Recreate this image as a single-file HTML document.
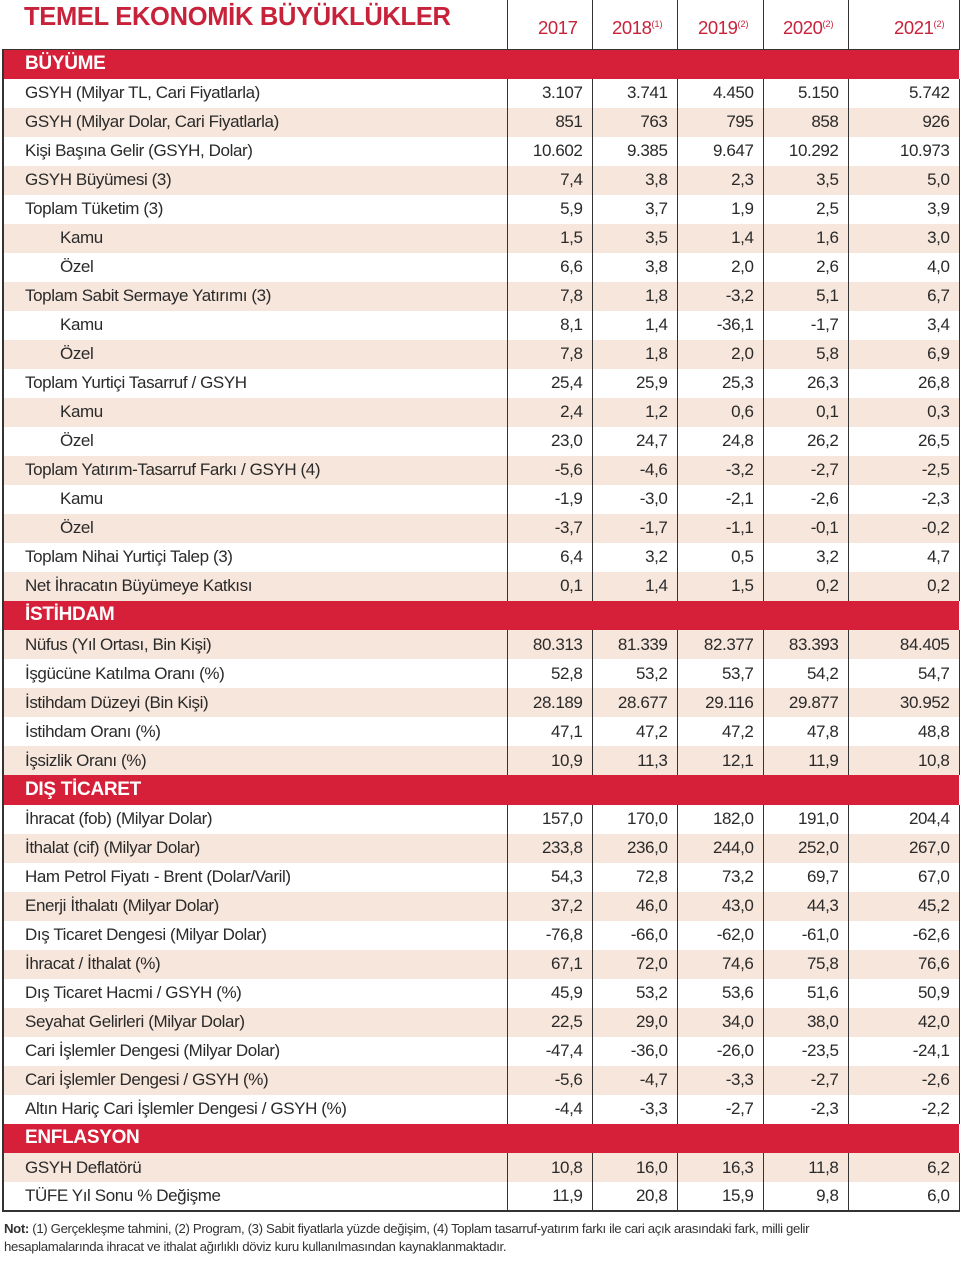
<!DOCTYPE html>
<html><head><meta charset="utf-8">
<style>
*{margin:0;padding:0;box-sizing:border-box}
body{width:960px;height:1264px;background:#fff;font-family:"Liberation Sans",sans-serif;color:#2a2a2a;position:relative;overflow:hidden}
.title{position:absolute;left:24px;top:3px;font-size:25.5px;font-weight:bold;color:#c8223b;letter-spacing:-0.3px}
table{position:absolute;left:2px;top:0;width:956px;border-collapse:collapse;table-layout:fixed}
td{height:29px;font-size:17px;letter-spacing:-0.4px;white-space:nowrap;overflow:hidden;padding:0;border-left:1.5px solid #333;border-right:1.5px solid #333}
td.l{padding-left:21px;border-left:2px solid #333}
td.n{text-align:right;padding-right:9px}
tr.b td{background:#f7e6db}
tr.h td{height:49px;color:#c8223b;text-align:right;padding-right:14px;font-size:18.5px;vertical-align:bottom;padding-bottom:10px;border-bottom:1.5px solid #333}
tr.h td.l{border-left:none}
tr.s td{background:#d61f38;color:#fff;font-weight:bold;font-size:19px;height:29.5px;border-right:none;padding-left:21px;letter-spacing:-0.3px;border-left:2px solid #333}
tr.last td{border-bottom:2px solid #333}
sup{font-size:9px;vertical-align:7px;letter-spacing:0}
.i{padding-left:56px!important}
.note{position:absolute;left:4px;top:1220px;font-size:13.2px;line-height:18px;color:#333;letter-spacing:-0.35px}
</style></head><body>
<div class="title">TEMEL EKONOMİK BÜYÜKLÜKLER</div>
<table>
<colgroup><col style="width:504px"><col style="width:85px"><col style="width:85px"><col style="width:86px"><col style="width:85px"><col style="width:111px"></colgroup>
<tr class="h"><td class="l"></td><td>2017</td><td>2018<sup>(1)</sup></td><td>2019<sup>(2)</sup></td><td>2020<sup>(2)</sup></td><td>2021<sup>(2)</sup></td></tr>
<tr class="s"><td colspan="6">BÜYÜME</td></tr>
<tr><td class="l">GSYH (Milyar TL, Cari Fiyatlarla)</td><td class="n">3.107</td><td class="n">3.741</td><td class="n">4.450</td><td class="n">5.150</td><td class="n">5.742</td></tr>
<tr class="b"><td class="l">GSYH (Milyar Dolar, Cari Fiyatlarla)</td><td class="n">851</td><td class="n">763</td><td class="n">795</td><td class="n">858</td><td class="n">926</td></tr>
<tr><td class="l">Kişi Başına Gelir (GSYH, Dolar)</td><td class="n">10.602</td><td class="n">9.385</td><td class="n">9.647</td><td class="n">10.292</td><td class="n">10.973</td></tr>
<tr class="b"><td class="l">GSYH Büyümesi (3)</td><td class="n">7,4</td><td class="n">3,8</td><td class="n">2,3</td><td class="n">3,5</td><td class="n">5,0</td></tr>
<tr><td class="l">Toplam Tüketim (3)</td><td class="n">5,9</td><td class="n">3,7</td><td class="n">1,9</td><td class="n">2,5</td><td class="n">3,9</td></tr>
<tr class="b"><td class="l i">Kamu</td><td class="n">1,5</td><td class="n">3,5</td><td class="n">1,4</td><td class="n">1,6</td><td class="n">3,0</td></tr>
<tr><td class="l i">Özel</td><td class="n">6,6</td><td class="n">3,8</td><td class="n">2,0</td><td class="n">2,6</td><td class="n">4,0</td></tr>
<tr class="b"><td class="l">Toplam Sabit Sermaye Yatırımı (3)</td><td class="n">7,8</td><td class="n">1,8</td><td class="n">-3,2</td><td class="n">5,1</td><td class="n">6,7</td></tr>
<tr><td class="l i">Kamu</td><td class="n">8,1</td><td class="n">1,4</td><td class="n">-36,1</td><td class="n">-1,7</td><td class="n">3,4</td></tr>
<tr class="b"><td class="l i">Özel</td><td class="n">7,8</td><td class="n">1,8</td><td class="n">2,0</td><td class="n">5,8</td><td class="n">6,9</td></tr>
<tr><td class="l">Toplam Yurtiçi Tasarruf / GSYH</td><td class="n">25,4</td><td class="n">25,9</td><td class="n">25,3</td><td class="n">26,3</td><td class="n">26,8</td></tr>
<tr class="b"><td class="l i">Kamu</td><td class="n">2,4</td><td class="n">1,2</td><td class="n">0,6</td><td class="n">0,1</td><td class="n">0,3</td></tr>
<tr><td class="l i">Özel</td><td class="n">23,0</td><td class="n">24,7</td><td class="n">24,8</td><td class="n">26,2</td><td class="n">26,5</td></tr>
<tr class="b"><td class="l">Toplam Yatırım-Tasarruf Farkı / GSYH (4)</td><td class="n">-5,6</td><td class="n">-4,6</td><td class="n">-3,2</td><td class="n">-2,7</td><td class="n">-2,5</td></tr>
<tr><td class="l i">Kamu</td><td class="n">-1,9</td><td class="n">-3,0</td><td class="n">-2,1</td><td class="n">-2,6</td><td class="n">-2,3</td></tr>
<tr class="b"><td class="l i">Özel</td><td class="n">-3,7</td><td class="n">-1,7</td><td class="n">-1,1</td><td class="n">-0,1</td><td class="n">-0,2</td></tr>
<tr><td class="l">Toplam Nihai Yurtiçi Talep (3)</td><td class="n">6,4</td><td class="n">3,2</td><td class="n">0,5</td><td class="n">3,2</td><td class="n">4,7</td></tr>
<tr class="b"><td class="l">Net İhracatın Büyümeye Katkısı</td><td class="n">0,1</td><td class="n">1,4</td><td class="n">1,5</td><td class="n">0,2</td><td class="n">0,2</td></tr>
<tr class="s"><td colspan="6">İSTİHDAM</td></tr>
<tr class="b"><td class="l">Nüfus (Yıl Ortası, Bin Kişi)</td><td class="n">80.313</td><td class="n">81.339</td><td class="n">82.377</td><td class="n">83.393</td><td class="n">84.405</td></tr>
<tr><td class="l">İşgücüne Katılma Oranı (%)</td><td class="n">52,8</td><td class="n">53,2</td><td class="n">53,7</td><td class="n">54,2</td><td class="n">54,7</td></tr>
<tr class="b"><td class="l">İstihdam Düzeyi (Bin Kişi)</td><td class="n">28.189</td><td class="n">28.677</td><td class="n">29.116</td><td class="n">29.877</td><td class="n">30.952</td></tr>
<tr><td class="l">İstihdam Oranı (%)</td><td class="n">47,1</td><td class="n">47,2</td><td class="n">47,2</td><td class="n">47,8</td><td class="n">48,8</td></tr>
<tr class="b"><td class="l">İşsizlik Oranı (%)</td><td class="n">10,9</td><td class="n">11,3</td><td class="n">12,1</td><td class="n">11,9</td><td class="n">10,8</td></tr>
<tr class="s"><td colspan="6">DIŞ TİCARET</td></tr>
<tr><td class="l">İhracat (fob) (Milyar Dolar)</td><td class="n">157,0</td><td class="n">170,0</td><td class="n">182,0</td><td class="n">191,0</td><td class="n">204,4</td></tr>
<tr class="b"><td class="l">İthalat (cif) (Milyar Dolar)</td><td class="n">233,8</td><td class="n">236,0</td><td class="n">244,0</td><td class="n">252,0</td><td class="n">267,0</td></tr>
<tr><td class="l">Ham Petrol Fiyatı - Brent (Dolar/Varil)</td><td class="n">54,3</td><td class="n">72,8</td><td class="n">73,2</td><td class="n">69,7</td><td class="n">67,0</td></tr>
<tr class="b"><td class="l">Enerji İthalatı (Milyar Dolar)</td><td class="n">37,2</td><td class="n">46,0</td><td class="n">43,0</td><td class="n">44,3</td><td class="n">45,2</td></tr>
<tr><td class="l">Dış Ticaret Dengesi (Milyar Dolar)</td><td class="n">-76,8</td><td class="n">-66,0</td><td class="n">-62,0</td><td class="n">-61,0</td><td class="n">-62,6</td></tr>
<tr class="b"><td class="l">İhracat / İthalat (%)</td><td class="n">67,1</td><td class="n">72,0</td><td class="n">74,6</td><td class="n">75,8</td><td class="n">76,6</td></tr>
<tr><td class="l">Dış Ticaret Hacmi / GSYH (%)</td><td class="n">45,9</td><td class="n">53,2</td><td class="n">53,6</td><td class="n">51,6</td><td class="n">50,9</td></tr>
<tr class="b"><td class="l">Seyahat Gelirleri (Milyar Dolar)</td><td class="n">22,5</td><td class="n">29,0</td><td class="n">34,0</td><td class="n">38,0</td><td class="n">42,0</td></tr>
<tr><td class="l">Cari İşlemler Dengesi (Milyar Dolar)</td><td class="n">-47,4</td><td class="n">-36,0</td><td class="n">-26,0</td><td class="n">-23,5</td><td class="n">-24,1</td></tr>
<tr class="b"><td class="l">Cari İşlemler Dengesi / GSYH (%)</td><td class="n">-5,6</td><td class="n">-4,7</td><td class="n">-3,3</td><td class="n">-2,7</td><td class="n">-2,6</td></tr>
<tr><td class="l">Altın Hariç Cari İşlemler Dengesi / GSYH (%)</td><td class="n">-4,4</td><td class="n">-3,3</td><td class="n">-2,7</td><td class="n">-2,3</td><td class="n">-2,2</td></tr>
<tr class="s"><td colspan="6">ENFLASYON</td></tr>
<tr class="b"><td class="l">GSYH Deflatörü</td><td class="n">10,8</td><td class="n">16,0</td><td class="n">16,3</td><td class="n">11,8</td><td class="n">6,2</td></tr>
<tr class="last"><td class="l">TÜFE Yıl Sonu % Değişme</td><td class="n">11,9</td><td class="n">20,8</td><td class="n">15,9</td><td class="n">9,8</td><td class="n">6,0</td></tr>
</table>
<div class="note"><b>Not:</b> (1) Gerçekleşme tahmini, (2) Program, (3) Sabit fiyatlarla yüzde değişim, (4) Toplam tasarruf-yatırım farkı ile cari açık arasındaki fark, milli gelir<br>hesaplamalarında ihracat ve ithalat ağırlıklı döviz kuru kullanılmasından kaynaklanmaktadır.</div>
</body></html>
